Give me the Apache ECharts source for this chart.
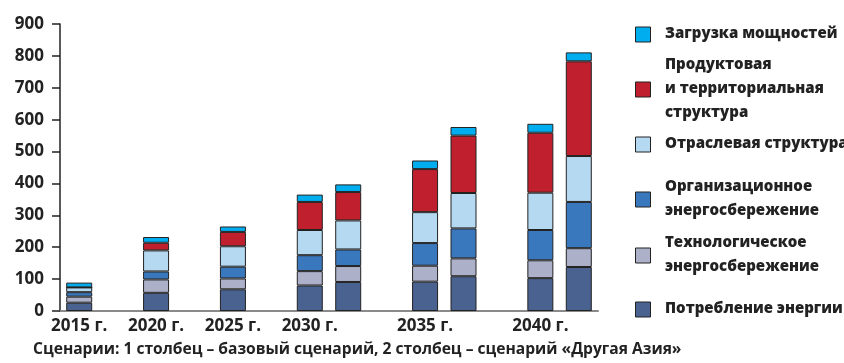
<!DOCTYPE html>
<html>
<head>
<meta charset="utf-8">
<script src="https://cdn.jsdelivr.net/npm/echarts@6/dist/echarts.min.js"></script>
<style>
  html, body { margin: 0; padding: 0; background: #ffffff; }
  #chart { width: 844px; height: 363px; }
</style>
</head>
<body>
<div id="chart"></div>
<script>
// Years on the axis; from 2030 on each year has two columns (base scenario, "Другая Азия")
const years = ['2015 г.', '2020 г.', '2025 г.', '2030 г.', '2035 г.', '2040 г.'];
const columnsPerYear = [1, 1, 1, 2, 2, 2];

// Stack components, bottom to top; each list runs column by column
const seriesNames = [
  'Потребление энергии',
  'Технологическое\nэнергосбережение',
  'Организационное\nэнергосбережение',
  'Отраслевая структура',
  'Продуктовая\nи территориальная\nструктура',
  'Загрузка мощностей'
];
const energyUse      = [26, 57, 68, 80, 91, 92, 109, 103, 138];
const techSaving     = [19, 42, 34, 45, 50, 50, 56, 56, 59];
const orgSaving      = [14, 25, 37, 50, 52, 71, 94, 95, 145];
const sectorStruct   = [15, 66, 64, 79, 91, 97, 111, 117, 144];
const productStruct  = [0, 24, 45, 88, 89, 135, 180, 188, 297];
const capacityLoad   = [15, 18, 17, 23, 24, 27, 27, 28, 28];

const seriesValues = [energyUse, techSaving, orgSaving, sectorStruct, productStruct, capacityLoad];
const seriesColors = ['#4a6290', '#acb0c8', '#3a78bd', '#b5d9f0', '#c01f2e', '#00aeef'];

const yTicks = { min: 0, max: 900, interval: 100 };

// Slot layout: one column per slot, an empty slot between year groups
const slotLabels = [];
const slotColumn = [];   // index into the value lists, or -1 for a gap
let col = 0;
years.forEach((y, i) => {
  if (i > 0) { slotLabels.push(''); slotColumn.push(-1); }
  for (let k = 0; k < columnsPerYear[i]; k++) {
    slotLabels.push(k === 0 ? y : '');
    slotColumn.push(col++);
  }
});

const FONT = '"Open Sans", "DejaVu Sans", sans-serif';
const INK = '#222222';

const series = seriesNames.map((name, s) => ({
  name: name,
  type: 'bar',
  stack: 'total',
  barWidth: 26,
  itemStyle: { color: seriesColors[s], borderColor: INK, borderWidth: 1 },
  emphasis: { disabled: true },
  data: slotColumn.map(c => (c < 0 ? '-' : seriesValues[s][c]))
}));

// Legend: one swatch per entry, listed top-down from the top of the stack;
// the captions are drawn next to the swatches as bold text blocks
const legendCenters = [34, 89, 144, 199, 255, 309];
const legendOrder = seriesNames.slice().reverse();
const legends = legendOrder.map((name, i) => ({
  data: [{ name: name, icon: 'rect' }],
  orient: 'vertical',
  left: 635,
  top: legendCenters[i] - 7.5,
  padding: 0,
  itemWidth: 15,
  itemHeight: 15,
  itemGap: 0,
  selectedMode: false,
  formatter: () => '',
  itemStyle: { borderColor: INK, borderWidth: 1 }
}));
const legendCaptions = legendOrder.map((name, i) => ({
  type: 'text',
  x: 665,
  y: legendCenters[i],
  silent: true,
  style: {
    text: name,
    align: 'left',
    verticalAlign: 'middle',
    font: '800 15px ' + FONT,
    lineHeight: 24,
    fill: INK
  }
}));

const chart = echarts.init(document.getElementById('chart'), null, { renderer: 'canvas' });
chart.setOption({
  animation: false,
  backgroundColor: '#ffffff',
  title: {
    text: 'Сценарии: 1 столбец – базовый сценарий, 2 столбец – сценарий «Другая Азия»',
    left: 33,
    top: 342,
    padding: 0,
    textStyle: { fontFamily: FONT, fontWeight: 700, fontSize: 15.6, color: INK }
  },
  legend: legends,
  graphic: legendCaptions,
  grid: { left: 60, right: 246, top: 24, bottom: 52 },
  xAxis: {
    type: 'category',
    data: slotLabels,
    axisLine: { lineStyle: { color: '#8a8a8a', width: 2 } },
    axisTick: { show: false },
    axisLabel: {
      interval: 0, margin: 7,
      fontFamily: FONT, fontWeight: 700, fontSize: 17, color: INK
    }
  },
  yAxis: {
    type: 'value',
    min: yTicks.min, max: yTicks.max, interval: yTicks.interval,
    splitLine: { show: false },
    axisLine: { show: true, lineStyle: { color: INK, width: 1.5 } },
    axisTick: { show: true, length: 8, lineStyle: { color: INK, width: 1.5 } },
    axisLabel: {
      margin: 16,
      fontFamily: FONT, fontWeight: 700, fontSize: 17, color: INK
    }
  },
  series: series
});
</script>
</body>
</html>
